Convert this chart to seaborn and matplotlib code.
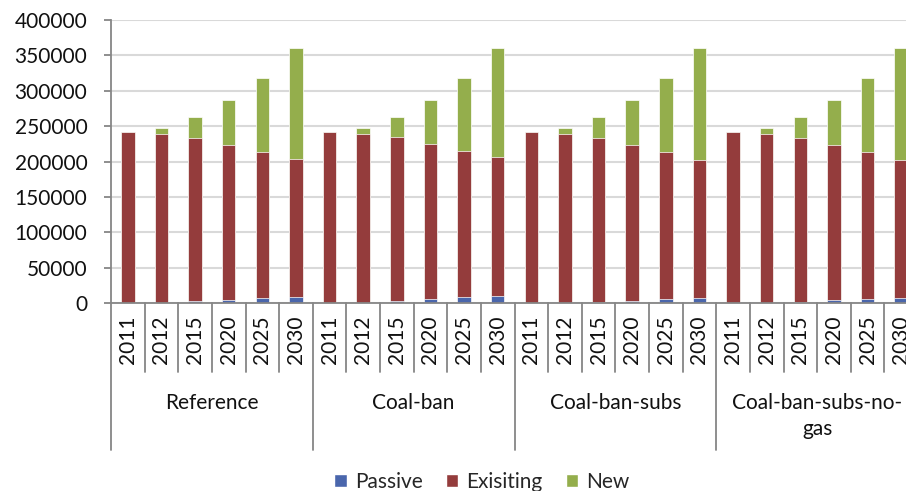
import pandas as pd
import seaborn as sns
import matplotlib.pyplot as plt
from matplotlib.patches import Patch

scenarios = ["Reference", "Coal-ban", "Coal-ban-subs", "Coal-ban-subs-no-\ngas"]
years = ["2011", "2012", "2015", "2020", "2025", "2030"]

# one value per scenario/year, scenarios in the order above
passive = [0, 0, 2400, 4200, 7000, 9000,
           0, 0, 2800, 5600, 8500, 9900,
           0, 0, 1900, 3300, 5600, 7500,
           0, 0, 1900, 3800, 5600, 7500]
existing = [241000, 239500, 231500, 219800, 207000, 195000,
            241000, 239500, 232500, 219800, 207000, 196100,
            241000, 239500, 232000, 220700, 208400, 195300,
            241000, 239500, 232000, 220200, 208400, 195300]
new = [0, 8500, 29600, 63000, 104600, 156500,
       0, 8500, 28200, 61600, 103100, 154500,
       0, 8500, 29600, 63000, 104600, 157700,
       0, 8500, 29600, 63000, 104600, 157700]

series_names = ["Passive", "Exisiting", "New"]
colors = ["#4A66AC", "#943C3C", "#94AE4C"]

cats = [f"{s}|{y}" for s in scenarios for y in years]
df = pd.DataFrame({"cat": cats, "Passive": passive, "Exisiting": existing, "New": new})
df["top_red"] = df["Passive"] + df["Exisiting"]
df["top_all"] = df["top_red"] + df["New"]

sns.set_style("white")
plt.rcParams["font.family"] = ["Lato", "DejaVu Sans"]

W, H = 906, 491
fig = plt.figure(figsize=(W / 100, H / 100), dpi=100)
ax = fig.add_axes([111 / W, (H - 303) / H, (918 - 111) / W, 283 / H])

# stacked bars: draw cumulative tops, tallest first
for col, c in zip(["top_all", "top_red", "Passive"], colors[::-1]):
    sns.barplot(data=df, x="cat", y=col, order=cats, color=c, width=0.4,
                saturation=1, edgecolor="white", linewidth=0.5, ax=ax)

ax.set_xlim(-0.5, len(cats) - 0.5)
ax.set_ylim(0, 400000)
ax.set_yticks(range(0, 400001, 50000))
ax.set_yticklabels([str(v) for v in range(0, 400001, 50000)], fontsize=15, color="#111111")
ax.set_xticks([])
ax.set_xlabel("")
ax.set_ylabel("")
ax.yaxis.grid(True, color="#D9D9D9", linewidth=1.5)
ax.set_axisbelow(True)
ax.tick_params(axis="y", length=5, width=1.3, color="#868686", pad=12, left=True)
for side in ["top", "right"]:
    ax.spines[side].set_visible(False)
for side in ["left", "bottom"]:
    ax.spines[side].set_color("#868686")
    ax.spines[side].set_linewidth(1.3)

# multi-level category axis
tr = ax.get_xaxis_transform()
short_y = -(372 - 303) / 283
long_y = -(450 - 303) / 283
for i in range(len(cats) + 1):
    y_end = long_y if i % len(years) == 0 else short_y
    ax.plot([i - 0.5, i - 0.5], [0, y_end], transform=tr, color="#868686",
            linewidth=1.3, clip_on=False)
for i, c in enumerate(cats):
    ax.text(i, -(315 - 303) / 283, c.split("|")[1], transform=tr, rotation=90,
            ha="center", va="top", fontsize=15, color="#111111")
for g, s in enumerate(scenarios):
    ax.text(g * len(years) + (len(years) - 1) / 2, -(393 - 303) / 283, s,
            transform=tr, ha="center", va="top", fontsize=15, color="#111111",
            linespacing=1.35)

handles = [Patch(facecolor=c, label=n) for n, c in zip(series_names, colors)]
fig.legend(handles=handles, loc="center", bbox_to_anchor=(482 / W, 1 - 482 / H), ncol=3,
           frameon=False, fontsize=15, handlelength=0.6, handleheight=0.6,
           handletextpad=0.4, columnspacing=1.1, borderpad=0)

fig.savefig("out.png", dpi=100)
